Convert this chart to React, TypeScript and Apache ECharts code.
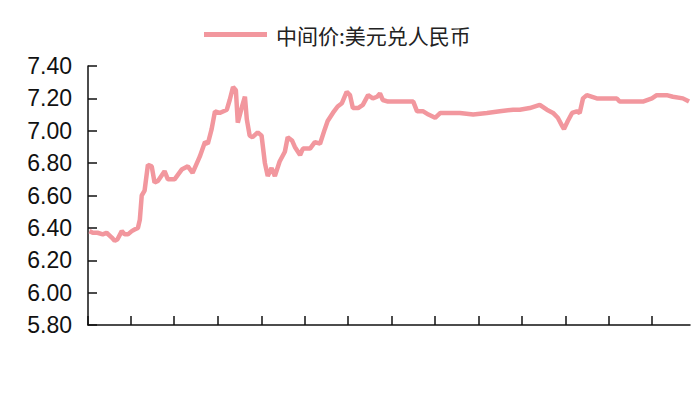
import React, { useEffect, useRef } from 'react';
import * as echarts from 'echarts';

// 中间价:美元兑人民币
const seriesName = '中间价:美元兑人民币';

const dates = [
  '2022-01-04', '2022-01-11', '2022-01-21', '2022-02-01', '2022-02-09', '2022-02-20',
  '2022-02-26', '2022-03-04', '2022-03-13', '2022-03-19', '2022-03-26', '2022-04-03',
  '2022-04-09', '2022-04-16', '2022-04-20', '2022-04-24', '2022-04-30', '2022-05-07',
  '2022-05-15', '2022-05-21', '2022-05-28', '2022-06-11', '2022-06-18', '2022-07-02',
  '2022-07-17', '2022-07-30', '2022-08-09', '2022-08-24', '2022-09-04', '2022-09-10',
  '2022-09-18', '2022-09-25', '2022-10-05', '2022-10-20', '2022-10-26', '2022-11-02',
  '2022-11-08', '2022-11-12', '2022-11-21', '2022-11-27', '2022-12-01', '2022-12-07',
  '2022-12-13', '2022-12-24', '2023-01-01', '2023-01-08', '2023-01-14', '2023-01-22',
  '2023-01-29', '2023-02-08', '2023-02-19', '2023-02-25', '2023-03-06', '2023-03-12',
  '2023-03-23', '2023-03-29', '2023-04-13', '2023-04-23', '2023-05-04', '2023-05-14',
  '2023-05-20', '2023-05-31', '2023-06-10', '2023-06-19', '2023-06-29', '2023-07-06',
  '2023-07-12', '2023-07-23', '2023-08-02', '2023-08-13', '2023-08-23', '2023-09-01',
  '2023-09-07', '2023-09-13', '2023-09-24', '2023-10-13', '2023-11-03', '2023-11-16',
  '2023-11-24', '2023-12-07', '2023-12-18', '2024-01-01', '2024-01-12', '2024-02-02',
  '2024-02-22', '2024-03-21', '2024-04-19', '2024-05-16', '2024-06-13', '2024-06-27',
  '2024-07-18', '2024-08-08', '2024-08-23', '2024-09-05', '2024-09-15', '2024-09-24',
  '2024-09-28', '2024-10-06', '2024-10-15', '2024-10-25', '2024-10-31', '2024-11-07',
  '2024-11-15', '2024-12-06', '2024-12-27', '2025-01-17', '2025-01-23', '2025-02-13',
  '2025-03-13', '2025-04-01', '2025-04-11', '2025-05-02', '2025-05-15', '2025-06-05',
  '2025-06-18',
];

const rates = [
  6.38, 6.37, 6.37, 6.36, 6.37, 6.34,
  6.32, 6.33, 6.38, 6.36, 6.36, 6.38,
  6.39, 6.40, 6.45, 6.60, 6.63, 6.79,
  6.78, 6.68, 6.69, 6.75, 6.70, 6.70,
  6.76, 6.78, 6.74, 6.84, 6.93, 6.92,
  7.01, 7.12, 7.11, 7.13, 7.19, 7.27,
  7.25, 7.05, 7.15, 7.21, 7.07, 6.97,
  6.96, 6.99, 6.97, 6.80, 6.72, 6.77,
  6.72, 6.81, 6.87, 6.96, 6.94, 6.90,
  6.85, 6.89, 6.89, 6.93, 6.92, 7.01,
  7.06, 7.11, 7.15, 7.17, 7.24, 7.22,
  7.14, 7.14, 7.16, 7.22, 7.20, 7.21,
  7.23, 7.19, 7.18, 7.18, 7.18, 7.18,
  7.12, 7.12, 7.10, 7.08, 7.11, 7.11,
  7.11, 7.10, 7.11, 7.12, 7.13, 7.13,
  7.14, 7.16, 7.13, 7.11, 7.08, 7.03,
  7.01, 7.06, 7.11, 7.12, 7.11, 7.20,
  7.22, 7.20, 7.20, 7.20, 7.18, 7.18,
  7.18, 7.20, 7.22, 7.22, 7.21, 7.20,
  7.18,
];

// x-axis tick labels (quarter starts)
const quarterLabels = [
  '2022-01', '2022-04', '2022-07', '2022-10',
  '2023-01', '2023-04', '2023-07', '2023-10',
  '2024-01', '2024-04', '2024-07', '2024-10',
  '2025-01', '2025-04',
];

const xMin = '2022-01-01';
const xMax = '2025-06-20';
const yMin = 5.8;
const yMax = 7.4;
const yStep = 0.2;

const lineColor = '#F2979E';
const latin = '"Liberation Sans", Arial, sans-serif';

const toMs = (d: string) => echarts.time.parse(d).getTime();

export default function App() {
  const chartRef = useRef<HTMLDivElement>(null);

  useEffect(() => {
    if (!chartRef.current) return;
    const chart = echarts.init(chartRef.current, undefined, { renderer: 'svg' });

    const quarterTicks = quarterLabels.map((q) => toMs(`${q}-01`));
    // blank placeholders at both ends soak up echarts' min/max overlap check,
    // so every real quarter label stays visible
    const labelValues = [quarterTicks[0], ...quarterTicks, quarterTicks[quarterTicks.length - 1]];
    const labelTexts = ['', ...quarterLabels, ''];

    chart.setOption({
      animation: false,
      legend: {
        left: 199,
        top: 19,
        icon: 'rect',
        itemWidth: 63,
        itemHeight: 5,
        textStyle: {
          fontFamily: '"Noto Sans CJK SC", sans-serif',
          fontSize: 21,
          color: '#222',
          padding: [0, 0, 0, 4],
        },
        data: [seriesName],
      },
      grid: {
        left: 88,
        right: 10,
        top: 66,
        bottom: 89,
        containLabel: false,
        outerBoundsMode: 'none',
      },
      xAxis: {
        type: 'value',
        min: toMs(xMin),
        max: toMs(xMax),
        axisLine: { lineStyle: { color: '#111', width: 1.5 } },
        axisTick: {
          show: true,
          inside: true,
          length: 9,
          customValues: labelValues,
          lineStyle: { color: '#111', width: 1.5 },
        },
        splitLine: { show: false },
        axisLabel: {
          customValues: labelValues,
          formatter: (v: number, i: number) => labelTexts[i] ?? '',
          rotate: 25,
          margin: 33,
          hideOverlap: false,
          fontFamily: latin,
          fontSize: 24,
          lineHeight: 24,
          fontWeight: 'normal',
          color: '#111',
          backgroundColor: '#fff',
          padding: [9, 2, 0, 2],
        },
      },
      yAxis: {
        type: 'value',
        min: yMin,
        max: yMax,
        interval: yStep,
        axisLine: { show: true, lineStyle: { color: '#111', width: 1.5 } },
        axisTick: { show: true, inside: true, length: 9, lineStyle: { color: '#111', width: 1.5 } },
        splitLine: { show: false },
        axisLabel: {
          formatter: (v: number) => v.toFixed(2),
          margin: 16,
          fontFamily: latin,
          fontSize: 23,
          color: '#111',
        },
      },
      series: [
        {
          name: seriesName,
          type: 'line',
          showSymbol: false,
          data: dates.map((d, i) => [toMs(d), rates[i]]),
          itemStyle: { color: lineColor },
          lineStyle: { color: lineColor, width: 4.5 },
        },
      ],
    });

    return () => {
      chart.dispose();
    };
  }, []);

  return (
    <div
      ref={chartRef}
      style={{ position: 'fixed', left: 0, top: 0, width: 700, height: 414, background: '#fff' }}
    />
  );
}
